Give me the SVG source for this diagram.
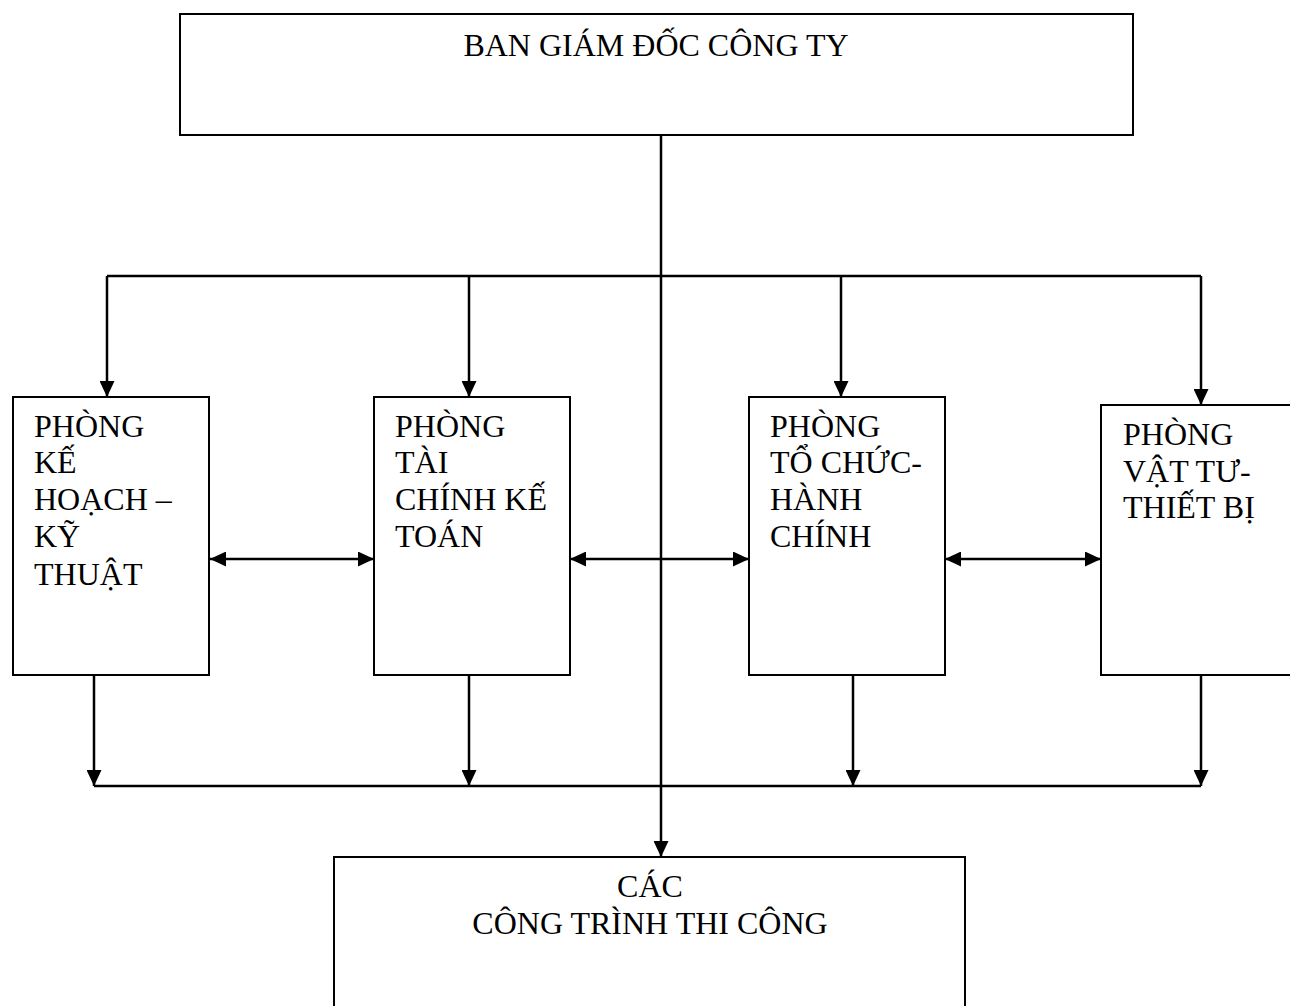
<svg xmlns="http://www.w3.org/2000/svg" width="1290" height="1006" viewBox="0 0 1290 1006">
<style>
  .box { fill: #fff; stroke: #000; stroke-width: 2; }
  .t { font-family: "Liberation Serif", "Times New Roman", serif; font-size: 32px; fill: #000; }
  .c { text-anchor: middle; }
  .ln { fill: none; stroke: #000; stroke-width: 2.5; }
  .ar { fill: none; stroke: #000; stroke-width: 2.5; marker-end: url(#ah); }
  .dar { fill: none; stroke: #000; stroke-width: 2.5; marker-end: url(#ah); marker-start: url(#ah); }
</style>
<defs>
  <marker id="ah" viewBox="0 0 16 15" refX="16" refY="7.5" markerWidth="16" markerHeight="15" markerUnits="userSpaceOnUse" orient="auto-start-reverse">
    <path d="M0,0 L16,7.5 L0,15 z" fill="#000"/>
  </marker>
</defs>
<rect width="1290" height="1006" fill="#fff"/>

<g id="connectors">
  <path class="ar" d="M661,135 L661,857"/>
  <path class="ln" d="M107,276 L1201,276"/>
  <path class="ar" d="M107,276 L107,397"/>
  <path class="ar" d="M469,276 L469,397"/>
  <path class="ar" d="M841,276 L841,397"/>
  <path class="ar" d="M1201,276 L1201,405"/>
  <path class="dar" d="M210,559 L374,559"/>
  <path class="dar" d="M570,559 L749,559"/>
  <path class="dar" d="M945,559 L1101,559"/>
  <path class="ar" d="M94,675 L94,786"/>
  <path class="ar" d="M469,675 L469,786"/>
  <path class="ar" d="M853,675 L853,786"/>
  <path class="ar" d="M1201,675 L1201,786"/>
  <path class="ln" d="M94,786 L1201,786"/>
</g>

<g id="ban-giam-doc">
  <rect class="box" x="180" y="14" width="953" height="121"/>
  <text class="t c" x="656" y="56">BAN GIÁM ĐỐC CÔNG TY</text>
</g>

<g id="phong-ke-hoach">
  <rect class="box" x="13" y="397" width="196" height="278"/>
  <text class="t" x="34" y="437">PHÒNG</text>
  <text class="t" x="34" y="473">KẾ</text>
  <text class="t" x="34" y="510">HOẠCH –</text>
  <text class="t" x="34" y="547">KỸ</text>
  <text class="t" x="34" y="585">THUẬT</text>
</g>

<g id="phong-tai-chinh">
  <rect class="box" x="374" y="397" width="196" height="278"/>
  <text class="t" x="395" y="437">PHÒNG</text>
  <text class="t" x="395" y="473">TÀI</text>
  <text class="t" x="395" y="510">CHÍNH KẾ</text>
  <text class="t" x="395" y="547">TOÁN</text>
</g>

<g id="phong-to-chuc">
  <rect class="box" x="749" y="397" width="196" height="278"/>
  <text class="t" x="770" y="437">PHÒNG</text>
  <text class="t" x="770" y="473">TỔ CHỨC-</text>
  <text class="t" x="770" y="510">HÀNH</text>
  <text class="t" x="770" y="547">CHÍNH</text>
</g>

<g id="phong-vat-tu">
  <rect class="box" x="1101" y="405" width="220" height="270"/>
  <text class="t" x="1123" y="445">PHÒNG</text>
  <text class="t" x="1123" y="482">VẬT TƯ-</text>
  <text class="t" x="1123" y="518">THIẾT BỊ</text>
</g>

<g id="cac-cong-trinh">
  <rect class="box" x="334" y="857" width="631" height="170"/>
  <text class="t c" x="650" y="897">CÁC</text>
  <text class="t c" x="650" y="934">CÔNG TRÌNH THI CÔNG</text>
</g>
</svg>
